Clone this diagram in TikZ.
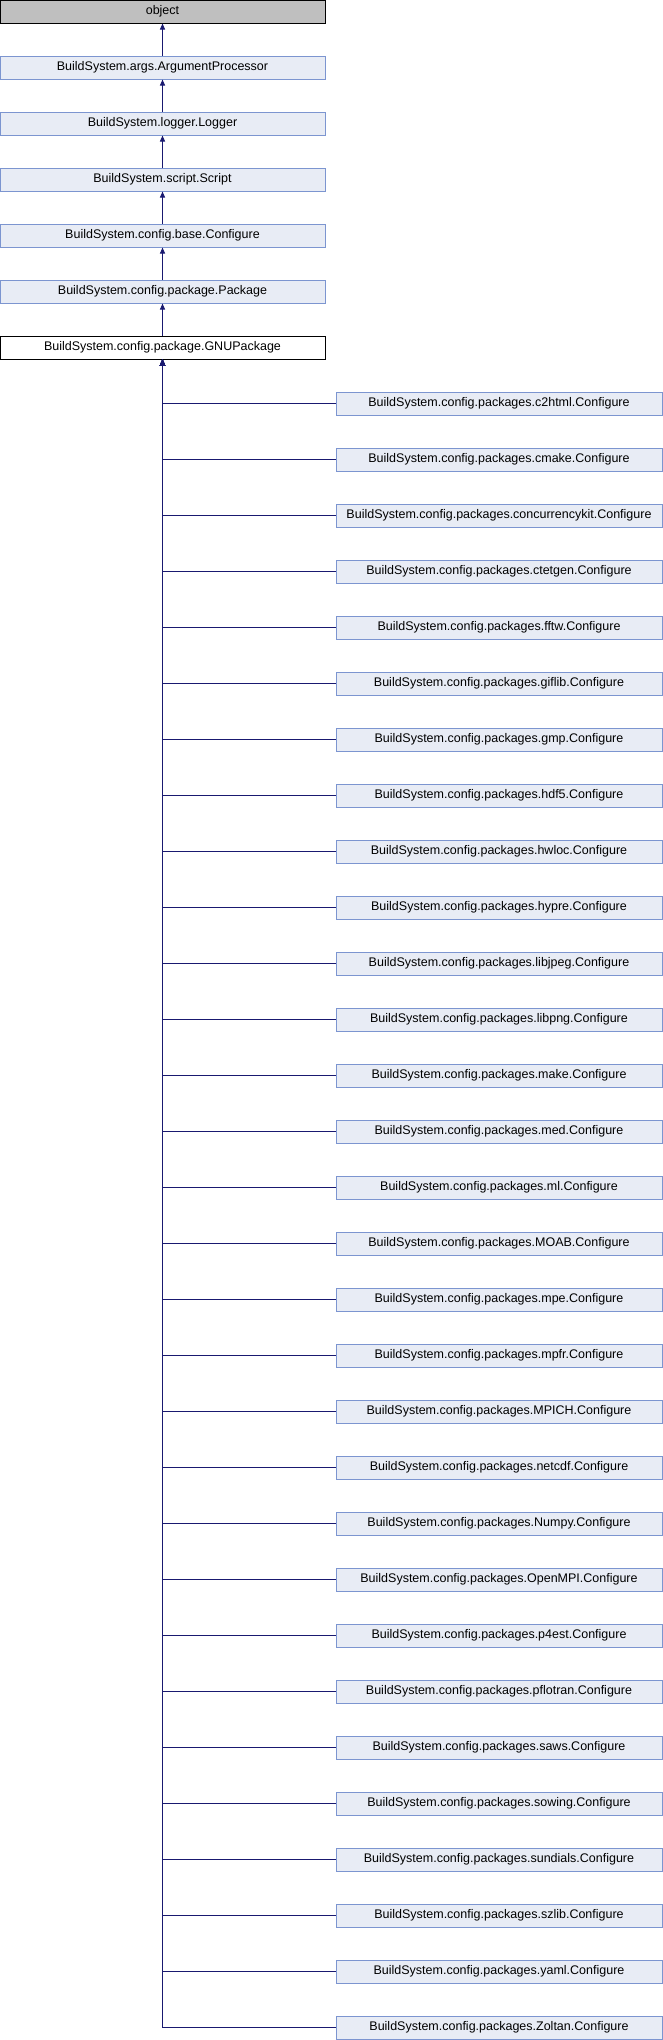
\documentclass[tikz,border=0pt]{standalone}
\usepackage{fontspec}
\setmainfont{Liberation Sans}
\usetikzlibrary{arrows.meta}
\definecolor{edgeblue}{RGB}{25,25,112}
\definecolor{clsfill}{RGB}{232,236,245}
\definecolor{clsline}{RGB}{124,149,208}
\definecolor{rootfill}{RGB}{191,191,191}

\begin{document}
\begin{tikzpicture}[x=1pt,y=-1pt,
    cls/.style={draw=clsline,fill=clsfill,line width=1pt,minimum width=325pt,
        minimum height=23pt,inner sep=0pt,font=\fontsize{12.5}{14}\selectfont},
    rootcls/.style={cls,draw=black,fill=rootfill},
    curcls/.style={cls,draw=black,fill=white},
    edge/.style={draw=edgeblue,line width=1pt,-{Triangle[width=5pt,length=6pt]}}]
                \def\gap{56}
                \useasboundingbox (0,0) rectangle (662,2040);

                \node[rootcls] (obj) at (162.5,11.5) {object};
                \node[cls] (argproc) at (162.5,11.5+\gap) {BuildSystem.args.ArgumentProcessor};
                \node[cls] (logger) at (162.5,11.5+2*\gap) {BuildSystem.logger.Logger};
                \node[cls] (script) at (162.5,11.5+3*\gap) {BuildSystem.script.Script};
                \node[cls] (base) at (162.5,11.5+4*\gap) {BuildSystem.config.base.Configure};
                \node[cls] (package) at (162.5,11.5+5*\gap) {BuildSystem.config.package.Package};
                \node[curcls] (gnu) at (162.5,11.5+6*\gap) {BuildSystem.config.package.GNUPackage};

                \draw[edge] (argproc.north) -- (obj.south);
                \draw[edge] (logger.north) -- (argproc.south);
                \draw[edge] (script.north) -- (logger.south);
                \draw[edge] (base.north) -- (script.south);
                \draw[edge] (package.north) -- (base.south);
                \draw[edge] (gnu.north) -- (package.south);

                \foreach \pkg [count=\i from 0] in {c2html,cmake,concurrencykit,ctetgen,fftw,giflib,gmp,hdf5,hwloc,hypre,libjpeg,libpng,make,med,ml,MOAB,mpe,mpfr,MPICH,netcdf,Numpy,OpenMPI,p4est,pflotran,saws,sowing,sundials,szlib,yaml,Zoltan}
                {
                    \node[cls,minimum width=326pt] (\pkg) at (499,403.5+\i*\gap) {BuildSystem.config.packages.\pkg.Configure};
                    \draw[edge] (\pkg.west) -| (gnu.south);
                }
\end{tikzpicture}
\end{document}
